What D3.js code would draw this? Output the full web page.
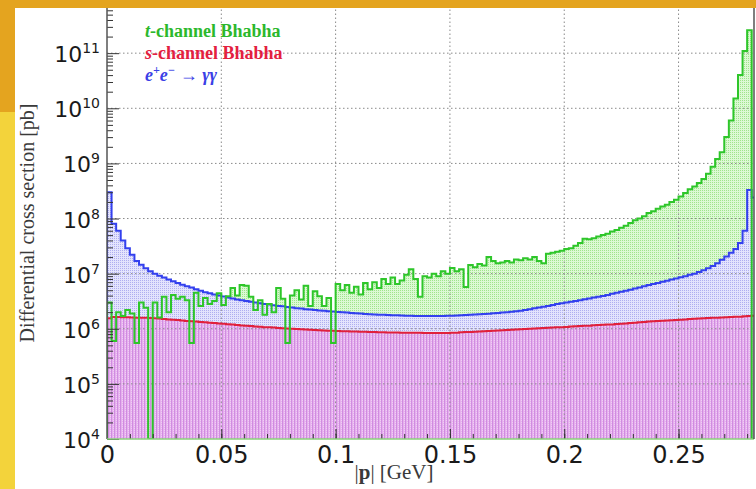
<!DOCTYPE html>
<html>
<head>
<meta charset="utf-8">
<script src="https://cdn.jsdelivr.net/npm/d3@7"></script>
<style>
  html, body { margin: 0; padding: 0; background: #fff; }
  svg { display: block; }
</style>
</head>
<body>
<div id="chart"></div>
<script>
// histograms, bins of 0.002 GeV starting at |p| = 0, values in pb
const binWidth = 0.002;

const tChannel = [
  3.0e6, 6e5, 2.0e6, 1.7e6, 2.2e6, 1.9e6, 5.5e5, 3.0e6, 2.4e6, 0,
  3.0e6, 1.6e6, 3.8e6, 2.0e6, 4.1e6, 3.5e6, 3.8e6, 3.3e6, 5.5e5, 4.5e6,
  2.6e6, 3.6e6, 2.8e6, 3.2e6, 4.4e6, 2.7e6, 3.9e6, 5.5e6, 4.0e6, 6.2e6,
  6.0e6, 3.8e6, 2.2e6, 3.3e6, 1.8e6, 2.8e6, 2.0e6, 5.5e6, 3.5e6, 5.5e5,
  4.0e6, 5.0e6, 3.4e6, 6.0e6, 2.6e6, 4.8e6, 3.9e6, 2.6e6, 3.6e6, 5.5e5,
  6.5e6, 5.0e6, 6.2e6, 4.5e6, 5.8e6, 4.2e6, 6.8e6, 5.2e6, 7.0e6, 5.5e6,
  8.0e6, 6.5e6, 8.5e6, 6.5e6, 7.5e6, 9.5e6, 1.2e7, 8.0e6, 3.8e6, 9.0e6,
  8.5e6, 1.0e7, 9.0e6, 1.1e7, 1.0e7, 1.27e7, 1.1e7, 1.2e7, 5.7e6, 1.44e7,
  1.3e7, 1.5e7, 1.4e7, 2.0e7, 1.7e7, 1.55e7, 1.6e7, 1.7e7, 1.6e7, 1.8e7,
  1.75e7, 1.9e7, 1.8e7, 2.0e7, 1.7e7, 1.55e7, 2.3e7, 2.4e7, 2.5e7, 2.6e7,
  2.8e7, 2.9e7, 3.2e7, 3.6e7, 4.3e7, 4.2e7, 4.4e7, 4.7e7, 5.0e7, 5.3e7,
  5.8e7, 6.2e7, 6.8e7, 7.4e7, 8.3e7, 9.3e7, 1.0e8, 1.1e8, 1.26e8, 1.35e8,
  1.5e8, 1.65e8, 1.77e8, 2.0e8, 2.2e8, 2.5e8, 2.9e8, 3.4e8, 3.8e8, 4.4e8,
  5.2e8, 6.5e8, 8.7e8, 1.2e9, 1.6e9, 3.0e9, 6.0e9, 1.5e10, 4.0e10, 1.1e11,
  2.6e11, 0
];

const sChannel = [
  1.55e6, 1.64e6, 1.63e6, 1.62e6, 1.61e6, 1.6e6, 1.59e6, 1.58e6, 1.58e6, 1.57e6,
  1.55e6, 1.53e6, 1.51e6, 1.48e6, 1.46e6, 1.44e6, 1.41e6, 1.39e6, 1.37e6, 1.35e6,
  1.33e6, 1.31e6, 1.29e6, 1.27e6, 1.25e6, 1.23e6, 1.21e6, 1.19e6, 1.17e6, 1.15e6,
  1.13e6, 1.12e6, 1.10e6, 1.09e6, 1.07e6, 1.06e6, 1.05e6, 1.03e6, 1.02e6, 1.01e6,
  1.0e6, 9.9e5, 9.8e5, 9.7e5, 9.6e5, 9.5e5, 9.4e5, 9.3e5, 9.25e5, 9.2e5,
  9.1e5, 9.05e5, 9.0e5, 8.95e5, 8.9e5, 8.85e5, 8.8e5, 8.75e5, 8.7e5, 8.65e5,
  8.6e5, 8.58e5, 8.55e5, 8.53e5, 8.5e5, 8.48e5, 8.46e5, 8.45e5, 8.43e5, 8.42e5,
  8.41e5, 8.4e5, 8.4e5, 8.4e5, 8.4e5, 8.45e5, 8.5e5, 8.6e5, 8.7e5, 8.75e5,
  8.85e5, 8.9e5, 9.0e5, 9.1e5, 9.2e5, 9.3e5, 9.4e5, 9.5e5, 9.6e5, 9.7e5,
  9.8e5, 9.9e5, 1.0e6, 1.01e6, 1.02e6, 1.03e6, 1.04e6, 1.05e6, 1.06e6, 1.07e6,
  1.08e6, 1.1e6, 1.11e6, 1.12e6, 1.13e6, 1.14e6, 1.155e6, 1.17e6, 1.18e6, 1.19e6,
  1.2e6, 1.22e6, 1.23e6, 1.25e6, 1.27e6, 1.29e6, 1.31e6, 1.33e6, 1.36e6, 1.37e6,
  1.38e6, 1.4e6, 1.41e6, 1.43e6, 1.44e6, 1.46e6, 1.48e6, 1.5e6, 1.52e6, 1.54e6,
  1.55e6, 1.56e6, 1.58e6, 1.59e6, 1.6e6, 1.62e6, 1.63e6, 1.65e6, 1.66e6, 1.68e6,
  1.7e6, 1.72e6
];

const gammaGamma = [
  3.0e8, 8.0e7, 6.0e7, 4.0e7, 2.9e7, 2.2e7, 1.7e7, 1.45e7, 1.25e7, 1.1e7,
  1.0e7, 9.2e6, 8.5e6, 7.8e6, 7.3e6, 6.8e6, 6.3e6, 5.9e6, 5.6e6, 5.2e6,
  4.9e6, 4.6e6, 4.4e6, 4.2e6, 4.0e6, 3.85e6, 3.7e6, 3.55e6, 3.4e6, 3.3e6,
  3.2e6, 3.1e6, 3.0e6, 2.9e6, 2.82e6, 2.75e6, 2.68e6, 2.6e6, 2.55e6, 2.48e6,
  2.42e6, 2.36e6, 2.32e6, 2.27e6, 2.23e6, 2.19e6, 2.15e6, 2.12e6, 2.08e6, 2.05e6,
  2.02e6, 2.0e6, 1.97e6, 1.94e6, 1.91e6, 1.89e6, 1.86e6, 1.84e6, 1.82e6, 1.8e6,
  1.79e6, 1.77e6, 1.76e6, 1.75e6, 1.74e6, 1.73e6, 1.72e6, 1.71e6, 1.71e6, 1.7e6,
  1.7e6, 1.7e6, 1.71e6, 1.71e6, 1.72e6, 1.73e6, 1.74e6, 1.75e6, 1.77e6, 1.79e6,
  1.81e6, 1.83e6, 1.85e6, 1.88e6, 1.91e6, 1.94e6, 1.97e6, 2.0e6, 2.04e6, 2.08e6,
  2.12e6, 2.2e6, 2.27e6, 2.35e6, 2.43e6, 2.52e6, 2.6e6, 2.7e6, 2.8e6, 2.9e6,
  3.0e6, 3.1e6, 3.2e6, 3.3e6, 3.42e6, 3.55e6, 3.68e6, 3.8e6, 3.95e6, 4.1e6,
  4.3e6, 4.5e6, 4.7e6, 4.9e6, 5.1e6, 5.35e6, 5.6e6, 5.9e6, 6.2e6, 6.5e6,
  6.8e6, 7.1e6, 7.4e6, 7.8e6, 8.2e6, 8.6e6, 9.0e6, 9.5e6, 1.0e7, 1.07e7,
  1.15e7, 1.25e7, 1.38e7, 1.55e7, 1.78e7, 2.05e7, 2.4e7, 2.8e7, 3.6e7, 6.0e7,
  3.3e8, 2.4e8
];

const xTickLabels = [0, 0.05, 0.1, 0.15, 0.2, 0.25];
const yExponents = [4, 5, 6, 7, 8, 9, 10, 11];

const width = 756;
const height = 489;

const x = d3.scaleLinear().domain([0, 0.283]).range([107, 754]);
const y = d3.scaleLog().domain([1e4, 6.6e11]).range([439, 8]);
const floor = y.domain()[0];

const svg = d3.select('#chart').append('svg')
  .attr('width', width)
  .attr('height', height);

// slide frame
svg.append('rect').attr('width', width).attr('height', height).attr('fill', '#fff');
svg.append('rect').attr('width', width).attr('height', 8).attr('fill', '#e4a41f');
svg.append('rect').attr('width', 15).attr('height', 112).attr('fill', '#e4a41f');
svg.append('rect').attr('y', 112).attr('width', 15).attr('height', height - 112).attr('fill', '#f3d33b');

const defs = svg.append('defs');

defs.append('clipPath').attr('id', 'plot-clip')
  .append('rect')
  .attr('x', x.range()[0]).attr('y', y.range()[1])
  .attr('width', x.range()[1] - x.range()[0])
  .attr('height', y.range()[0] - y.range()[1]);

const makePattern = (id, base, dot) => {
  const p = defs.append('pattern').attr('id', id)
    .attr('patternUnits', 'userSpaceOnUse').attr('width', 2).attr('height', 2);
  p.append('rect').attr('width', 2).attr('height', 2).attr('fill', base);
  p.append('rect').attr('width', 1).attr('height', 1).attr('fill', dot);
};
makePattern('fill-t', '#dcf9d4', '#a0e48c');
makePattern('fill-g', '#e4e4fd', '#afaff0');

const pink = defs.append('pattern').attr('id', 'fill-s')
  .attr('patternUnits', 'userSpaceOnUse').attr('width', 3).attr('height', 2);
pink.append('rect').attr('width', 3).attr('height', 2).attr('fill', '#e6b0ee');
pink.append('rect').attr('width', 1).attr('height', 2).attr('fill', '#d08ce0');
pink.append('rect').attr('x', 2).attr('width', 1).attr('height', 1).attr('fill', '#f0d0f4');

// step outline of a histogram
const stepPoints = vals => {
  const pts = [[x(0), y(floor)]];
  vals.forEach((v, i) => {
    const yy = y(Math.max(v, floor));
    pts.push([x(i * binWidth), yy]);
    pts.push([x((i + 1) * binWidth), yy]);
  });
  pts.push([x(vals.length * binWidth), y(floor)]);
  return pts;
};
const line = d3.line();

const plot = svg.append('g').attr('clip-path', 'url(#plot-clip)');

const series = [
  { vals: tChannel, fill: 'url(#fill-t)', stroke: '#2ec62a' },
  { vals: gammaGamma, fill: 'url(#fill-g)', stroke: '#3340ee' },
  { vals: sChannel, fill: 'url(#fill-s)', stroke: '#e0203c' }
];

series.forEach(s => {
  plot.append('path')
    .attr('d', line(stepPoints(s.vals)) + 'Z')
    .attr('fill', s.fill);
});

// dotted grid
const gridX = xTickLabels.filter(d => d > 0);
const gridY = yExponents.filter(e => e > 4).map(e => Math.pow(10, e));

plot.selectAll('.gx').data(gridX).enter().append('line')
  .attr('x1', d => x(d)).attr('x2', d => x(d))
  .attr('y1', y.range()[0]).attr('y2', y.range()[1])
  .attr('stroke', '#8a8a8a').attr('stroke-width', 1)
  .attr('stroke-dasharray', '1.5,2.5');

plot.selectAll('.gy').data(gridY).enter().append('line')
  .attr('x1', x.range()[0]).attr('x2', x.range()[1])
  .attr('y1', d => y(d)).attr('y2', d => y(d))
  .attr('stroke', '#8a8a8a').attr('stroke-width', 1)
  .attr('stroke-dasharray', '1.5,2.5');

[series[2], series[1], series[0]].forEach(s => {
  plot.append('path')
    .attr('d', line(stepPoints(s.vals)))
    .attr('fill', 'none')
    .attr('stroke', s.stroke)
    .attr('stroke-width', 2)
    .attr('stroke-linejoin', 'miter');
});

// axes
const yMajor = yExponents.map(e => Math.pow(10, e));
const yMinor = [];
yExponents.forEach(e => {
  for (let k = 2; k <= 9; k++) {
    const v = k * Math.pow(10, e);
    if (v <= y.domain()[1]) yMinor.push(v);
  }
});

const yAxisMinor = d3.axisRight(y).tickValues(yMinor).tickSize(6).tickFormat('');
const yAxisMajor = d3.axisRight(y).tickValues(yMajor).tickSize(12).tickFormat('');

svg.append('g').attr('transform', `translate(${x.range()[0]},0)`).call(yAxisMinor)
  .call(g => g.select('.domain').remove())
  .selectAll('line').attr('stroke', '#333');
svg.append('g').attr('transform', `translate(${x.range()[0]},0)`).call(yAxisMajor)
  .call(g => g.select('.domain').remove())
  .selectAll('line').attr('stroke', '#333');

const xMinor = d3.range(1, 29).map(d => d / 100);
const xAxisTicks = d3.axisTop(x).tickValues(xMinor).tickSize(5).tickFormat('');
svg.append('g').attr('transform', `translate(0,${y.range()[0]})`).call(xAxisTicks)
  .call(g => g.select('.domain').remove())
  .selectAll('line').attr('stroke', '#333');

const xAxisMajor = d3.axisTop(x).tickValues(gridX).tickSize(10).tickFormat('');
svg.append('g').attr('transform', `translate(0,${y.range()[0]})`).call(xAxisMajor)
  .call(g => g.select('.domain').remove())
  .selectAll('line').attr('stroke', '#333');

const xAxisLabels = d3.axisBottom(x).tickValues(xTickLabels).tickSize(0).tickPadding(7)
  .tickFormat(d => (d === 0 ? '0' : String(+d.toFixed(2))));
svg.append('g').attr('transform', `translate(0,${y.range()[0]})`).call(xAxisLabels)
  .call(g => g.select('.domain').remove())
  .selectAll('text')
  .attr('font-family', 'DejaVu Sans')
  .attr('font-size', 24)
  .attr('fill', '#1a1a1a');

// frame lines
svg.append('line')
  .attr('x1', x.range()[0]).attr('x2', x.range()[0])
  .attr('y1', y.range()[1]).attr('y2', y.range()[0])
  .attr('stroke', '#555').attr('stroke-width', 1.5);
svg.append('line')
  .attr('x1', x.range()[0]).attr('x2', x.range()[1])
  .attr('y1', y.range()[0]).attr('y2', y.range()[0])
  .attr('stroke', '#8ad07a').attr('stroke-width', 1.5);
svg.append('line')
  .attr('x1', x.range()[1]).attr('x2', x.range()[1])
  .attr('y1', y.range()[1]).attr('y2', y.range()[0])
  .attr('stroke', '#555').attr('stroke-width', 1.5);

// y tick labels 10^n
const yLabels = svg.append('g')
  .attr('font-family', 'DejaVu Sans')
  .attr('fill', '#1a1a1a')
  .attr('text-anchor', 'end');

yExponents.forEach(e => {
  const t = yLabels.append('text')
    .attr('x', 100)
    .attr('y', y(Math.pow(10, e)) + 9);
  t.append('tspan').attr('font-size', 22).text('10');
  t.append('tspan').attr('font-size', 14).attr('dy', -9).text(e);
});

// axis titles
svg.append('text')
  .attr('transform', 'translate(34,223) rotate(-90)')
  .attr('text-anchor', 'middle')
  .attr('font-family', 'Liberation Serif')
  .attr('font-size', 20)
  .attr('fill', '#3a3a3a')
  .text('Differential cross section [pb]');

const xTitle = svg.append('text')
  .attr('x', 394).attr('y', 479)
  .attr('text-anchor', 'middle')
  .attr('font-family', 'Liberation Serif')
  .attr('font-size', 21)
  .attr('fill', '#3a3a3a');
xTitle.append('tspan').text('|');
xTitle.append('tspan').attr('font-weight', 'bold').text('p');
xTitle.append('tspan').text('| [GeV]');

// legend
const legend = svg.append('g')
  .attr('font-family', 'Liberation Serif')
  .attr('font-weight', 'bold')
  .attr('font-size', 18);

const l1 = legend.append('text').attr('x', 145).attr('y', 37).attr('fill', '#2cb82c');
l1.append('tspan').attr('font-style', 'italic').text('t');
l1.append('tspan').text('-channel Bhabha');

const l2 = legend.append('text').attr('x', 145).attr('y', 59).attr('fill', '#e3203f');
l2.append('tspan').attr('font-style', 'italic').text('s');
l2.append('tspan').text('-channel Bhabha');

const l3 = legend.append('text').attr('x', 145).attr('y', 81).attr('fill', '#3a40e6')
  .attr('font-style', 'italic');
l3.append('tspan').text('e');
l3.append('tspan').attr('font-size', 12).attr('dy', -7).text('+');
l3.append('tspan').attr('dy', 7).text('e');
l3.append('tspan').attr('font-size', 12).attr('dy', -7).text('\u2212');
l3.append('tspan').attr('dy', 7).attr('font-style', 'normal').text(' \u2192 ');
l3.append('tspan').text('\u03b3\u03b3');
</script>
</body>
</html>
